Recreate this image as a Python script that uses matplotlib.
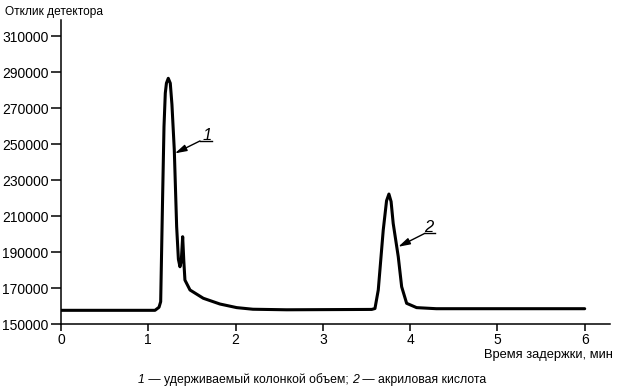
import matplotlib
matplotlib.use("Agg")
import matplotlib.pyplot as plt

plt.rcParams['font.family'] = ['Liberation Sans', 'DejaVu Sans']

# Chromatogram trace (time, min ; detector response)
time_min = [0.0, 1.077, 1.123, 1.142, 1.165, 1.180, 1.195, 1.208, 1.229, 1.252,
            1.271, 1.298, 1.325, 1.345, 1.363, 1.378, 1.394, 1.407, 1.420, 1.478,
            1.630, 1.821, 2.013, 2.199, 2.585, 3.560, 3.597, 3.635, 3.692, 3.730,
            3.757, 3.782, 3.806, 3.864, 3.903, 3.960, 4.074, 4.300, 6.0]
response = [157600, 157600, 159300, 162400, 222600, 259600, 278300, 283800, 286500, 283800,
            272000, 246700, 204100, 186000, 181800, 185000, 198500, 185000, 174400, 168900,
            164300, 161100, 159100, 158200, 157900, 158100, 158600, 168900, 202200, 218500,
            222200, 218000, 205900, 187400, 170700, 161500, 159100, 158500, 158500]

x_ticks = [0, 1, 2, 3, 4, 5, 6]
y_ticks = [150000, 170000, 190000, 210000, 230000, 250000, 270000, 290000, 310000]

# Peak labels: (label, arrow tip, label line start, underline end, text position)
peak_labels = ["1", "2"]
arrow_tips = [(1.305, 244800), (3.864, 192900)]
line_starts = [(1.592, 251700), (4.170, 200400)]
underline_ends = [1.73, 4.284]
text_pos = [(1.672, 252300), (4.215, 201000)]

fig = plt.figure(figsize=(6.18, 3.90), dpi=100)
ax = fig.add_axes([61/618, 1 - 324/390, 549/618, 304/390])

ax.plot(time_min, response, color='black', lw=2.2, solid_joinstyle='round', solid_capstyle='round')

ax.set_xlim(0, 6.29)
ax.set_ylim(150000, 318900)
ax.set_xticks(x_ticks)
ax.set_xticklabels([str(v) for v in x_ticks])
ax.set_yticks(y_ticks)
ax.set_yticklabels([str(v) for v in y_ticks])
ax.tick_params(axis='both', direction='out', width=1.1, labelsize=10, colors='black')
ax.tick_params(axis='x', length=5, pad=1.5)
ax.tick_params(axis='y', length=7.5, pad=1.5)
for s in ['top', 'right']:
    ax.spines[s].set_visible(False)
for s in ['left', 'bottom']:
    ax.spines[s].set_linewidth(1.1)

for lab, tip, st, ue, tp in zip(peak_labels, arrow_tips, line_starts, underline_ends, text_pos):
    ax.annotate('', xy=tip, xytext=st,
                arrowprops=dict(arrowstyle='-|>,head_length=0.7,head_width=0.2', color='black', lw=1.0,
                                shrinkA=0, shrinkB=0))
    ax.plot([st[0], ue], [st[1], st[1]], color='black', lw=1.0)
    ax.text(tp[0], tp[1], lab, fontsize=12, fontstyle='italic', ha='center', va='baseline')

fig.text(5/618, 1 - 12/390, 'Отклик детектора', fontsize=8.6, ha='left', va='center')
fig.text(613/618, 1 - 355/390, 'Время задержки, мин', fontsize=9.3, ha='right', va='center')

fs_cap = 8.8
ycap = 1 - 380/390
cap = fig.text(138/618, ycap, '1', fontsize=fs_cap, fontstyle='italic', ha='left', va='center')
fig.canvas.draw()
r = fig.canvas.get_renderer()
bb = cap.get_window_extent(r)
t2 = fig.text(bb.x1/618, ycap, ' — удерживаемый колонкой объем; ', fontsize=fs_cap, ha='left', va='center')
bb = t2.get_window_extent(r)
t3 = fig.text(bb.x1/618, ycap, '2', fontsize=fs_cap, fontstyle='italic', ha='left', va='center')
bb = t3.get_window_extent(r)
fig.text(bb.x1/618, ycap, ' — акриловая кислота', fontsize=fs_cap, ha='left', va='center')

fig.savefig('out.png', dpi=100)
